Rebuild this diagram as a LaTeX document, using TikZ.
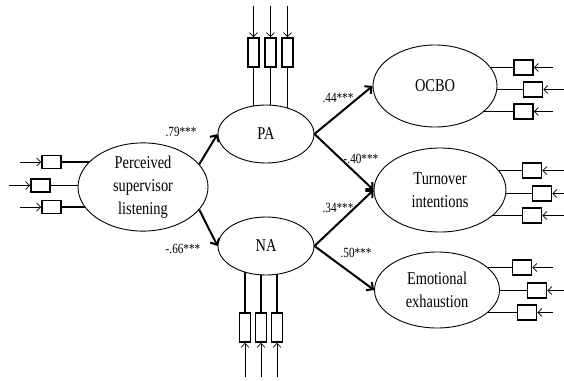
\documentclass[tikz,border=0pt]{standalone}
\usepackage{fontspec}
\setmainfont{Liberation Serif}[FakeStretch=0.8]
\usetikzlibrary{shapes.geometric,arrows.meta,backgrounds}
\begin{document}
\begin{tikzpicture}[x=1pt,y=-1pt,
  lat/.style={ellipse,draw,line width=0.9pt,fill=white,inner sep=0pt,align=center,
    font=\fontsize{18}{23}\selectfont},
  indh/.style={draw,line width=1.6pt,fill=white,minimum width=19pt,minimum height=13pt,inner sep=0pt},
  indr/.style={draw,line width=1.6pt,fill=white,minimum width=19pt,minimum height=15pt,inner sep=0pt},
  indv/.style={draw,line width=1.6pt,fill=white,minimum width=11pt,minimum height=29pt,inner sep=0pt},
  link/.style={line width=1.4pt},
  iarr/.style={line width=0.8pt,-{Straight Barb[length=4pt,width=8pt]}},
  path/.style={line width=2pt,-{Straight Barb[length=5pt,width=10pt]}},
  coef/.style={font=\fontsize{14}{16}\selectfont,inner sep=0pt}]
\useasboundingbox (0,0) rectangle (564,380);

% latent variables
\node[lat,minimum width=130pt,minimum height=86pt] (psl) at (143,187) {Perceived\\supervisor\\listening};
\node[lat,minimum width=96pt,minimum height=58pt] (pa) at (266,134) {PA};
\node[lat,minimum width=96pt,minimum height=58pt] (na) at (266,246) {NA};
\node[lat,minimum width=124pt,minimum height=82pt] (ocbo) at (435,86) {OCBO};
\node[lat,minimum width=132pt,minimum height=84pt] (ti) at (440,190) {Turnover\\intentions};
\node[lat,minimum width=125pt,minimum height=76pt] (ee) at (437,290) {Emotional\\exhaustion};

% indicators: perceived supervisor listening
\node[indh] (l1) at (51.5,162) {};
\node[indh] (l2) at (40.5,185.5) {};
\node[indh] (l3) at (51.5,207) {};
\coordinate (l1s) at (20,162);
\coordinate (l2s) at (9,185.5);
\coordinate (l3s) at (20,207);

% indicators: PA
\node[indv] (a1) at (253.5,52.5) {};
\node[indv] (a2) at (270.5,52.5) {};
\node[indv] (a3) at (287.5,52.5) {};
\coordinate (a1s) at (253.5,6);
\coordinate (a2s) at (270.5,6);
\coordinate (a3s) at (287.5,6);

% indicators: NA
\node[indv] (n1) at (245,327.5) {};
\node[indv] (n2) at (261,327.5) {};
\node[indv] (n3) at (277,327.5) {};
\coordinate (n1s) at (245,377);
\coordinate (n2s) at (261,377);
\coordinate (n3s) at (277,377);

% indicators: OCBO
\node[indr] (o1) at (523.5,67.5) {};
\node[indr] (o2) at (533,89.5) {};
\node[indr] (o3) at (523.5,111.5) {};
\coordinate (o1s) at (553,67.5);
\coordinate (o2s) at (564,89.5);
\coordinate (o3s) at (553,111.5);

% indicators: turnover intentions
\node[indr] (t1) at (532,170.5) {};
\node[indr] (t2) at (542,193.5) {};
\node[indr] (t3) at (532,215.5) {};
\coordinate (t1s) at (564,170.5);
\coordinate (t2s) at (564,193.5);
\coordinate (t3s) at (564,215.5);

% indicators: emotional exhaustion
\node[indr] (e1) at (522,267.5) {};
\node[indr] (e2) at (537,290.5) {};
\node[indr] (e3) at (527,312.5) {};
\coordinate (e1s) at (553,267.5);
\coordinate (e2s) at (564,290.5);
\coordinate (e3s) at (553,312.5);

\begin{scope}[on background layer]
  \foreach \b/\l in {l1/psl,l2/psl,l3/psl}{\draw[link] (\b.east) -- (\b.east -| \l.center);}
  \foreach \b/\l in {a1/pa,a2/pa,a3/pa}{\draw[link] (\b.south) -- (\b.south |- \l.center);}
  \foreach \b/\l in {n1/na,n2/na,n3/na}{\draw[link] (\b.north) -- (\b.north |- \l.center);}
  \foreach \b/\l in {o1/ocbo,o2/ocbo,o3/ocbo,t1/ti,t2/ti,t3/ti,e1/ee,e2/ee,e3/ee}{\draw[link] (\b.west) -- (\b.west -| \l.center);}
\end{scope}

% indicator arrows
\foreach \b in {l1,l2,l3}{\draw[iarr] (\b s) -- (\b.west);}
\foreach \b in {a1,a2,a3}{\draw[iarr] (\b s) -- (\b.north);}
\foreach \b in {n1,n2,n3}{\draw[iarr] (\b s) -- (\b.south);}
\foreach \b in {o1,o2,o3,t1,t2,t3,e1,e2,e3}{\draw[iarr] (\b s) -- (\b.east);}

% structural paths
\draw[path] (psl.22) -- (pa.west);
\draw[path] (psl.-22) -- (na.west);
\draw[path] (pa.east) -- (ocbo.west);
\draw[path] (pa.east) -- (ti.west);
\draw[path] (na.east) -- (ti.west);
\draw[path] (na.east) -- (ee.west);

% coefficients
\node[coef] (c1) at (181,132) {.79***};
\node[coef] (c2) at (183,249) {-.66***};
\node[coef] (c3) at (338,98) {.44***};
\node[coef] (c4) at (361,159) {-.40***};
\node[coef] (c5) at (338,208) {.34***};
\node[coef] (c6) at (356,253) {.50***};
\end{tikzpicture}
\end{document}
